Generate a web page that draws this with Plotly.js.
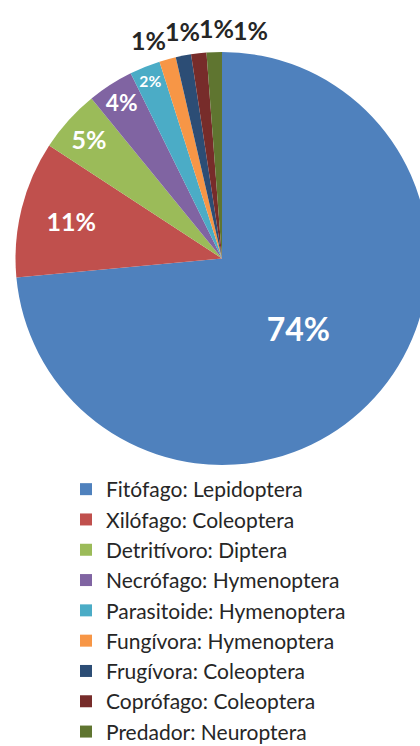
<!DOCTYPE html>
<html>
<head>
<meta charset="utf-8">
<script src="https://cdn.plot.ly/plotly-3.0.1.min.js"></script>
<style>
html,body{margin:0;padding:0;overflow:hidden;background:#fff;width:420px;height:746px;}
#chart{width:440px;height:746px;}
</style>
</head>
<body>
<div id="chart"></div>
<script>
const categories = [
  "Fitófago: Lepidoptera",
  "Xilófago: Coleoptera",
  "Detritívoro: Diptera",
  "Necrófago: Hymenoptera",
  "Parasitoide: Hymenoptera",
  "Fungívora: Hymenoptera",
  "Frugívora: Coleoptera",
  "Coprófago: Coleoptera",
  "Predador: Neuroptera"
];
const shares = [73.6, 10.7, 4.9, 3.6, 2.4, 1.3, 1.2, 1.2, 1.2];
const colors = ["#4F81BD", "#C0504D", "#9BBB59", "#8064A2", "#4BACC6", "#F79646", "#2C4D75", "#772C2A", "#5F7530"];
// slices whose labels sit outside the pie (drawn as callout texts above the rim)
const outsideLabel = [false, false, false, false, false, true, true, true, true];
const labelSizes = [32, 25, 25, 25, 25, 25, 25, 25, 25];

const W = 440, H = 746;
const labelFont = "Lato, 'Open Sans', sans-serif";

const trace = {
  type: "pie",
  labels: categories,
  values: shares,
  sort: false,
  direction: "clockwise",
  rotation: 0,
  marker: {colors: colors, line: {width: 0}},
  texttemplate: "%{percent:.0%}",
  textposition: outsideLabel.map(o => o ? "none" : "inside"),
  insidetextorientation: "horizontal",
  insidetextfont: {family: labelFont, size: labelSizes, color: "#ffffff", weight: "bold"},
  domain: {x: [0.0352, 0.9739], y: [0.3767, 0.9303]},
  hoverinfo: "label+percent",
  automargin: false
};

const layout = {
  width: W,
  height: H,
  margin: {l: 0, r: 0, t: 0, b: 0, autoexpand: false},
  paper_bgcolor: "#ffffff",
  showlegend: true,
  legend: {
    x: 0.150, xanchor: "left",
    y: 0.3713, yanchor: "top",
    orientation: "v",
    font: {family: labelFont, size: 21, color: "#262626"},
    bgcolor: "rgba(0,0,0,0)",
    traceorder: "normal"
  }
};

const gd = document.getElementById("chart");
Plotly.newPlot(gd, [trace], layout, {displayModeBar: false, staticPlot: true}).then(function () {
  // place the outside percentage labels from the pie's own geometry
  const cd0 = gd.calcdata[0][0];
  const cx = cd0.cx, cy = cd0.cy, r = cd0.r;
  const total = shares.reduce((a, b) => a + b, 0);
  let cum = 0;
  const items = [];
  shares.forEach(function (v, i) {
    const mid = (cum + v / 2) / total * 2 * Math.PI; // clockwise from 12 o'clock
    cum += v;
    if (!outsideLabel[i]) return;
    const R = r + 24;
    items.push({
      x: cx + R * Math.sin(mid),
      text: Math.round(v / total * 100) + "%"
    });
  });
  const gap = 34;
  const origMean = items.reduce((a, b) => a + b.x, 0) / items.length;
  const pushed = items.map(it => it.x);
  for (let i = 1; i < pushed.length; i++) {
    if (pushed[i] - pushed[i - 1] < gap) pushed[i] = pushed[i - 1] + gap;
  }
  const pushedMean = pushed.reduce((a, b) => a + b, 0) / pushed.length;
  const target = origMean + (pushedMean - origMean) / 2;
  const R = r + 24;
  const annotations = items.map(function (it, k) {
    const x = pushed[k] - pushedMean + target;
    const dx = x - cx;
    const y = cy - Math.sqrt(Math.max(R * R - dx * dx, 0));
    return {
      xref: "paper", yref: "paper",
      x: x / W, y: 1 - y / H,
      xanchor: "center", yanchor: "middle",
      text: it.text, showarrow: false,
      font: {family: labelFont, size: 25, color: "#262626", weight: "bold"}
    };
  });
  return Plotly.relayout(gd, {annotations: annotations});
});
</script>
</body>
</html>
